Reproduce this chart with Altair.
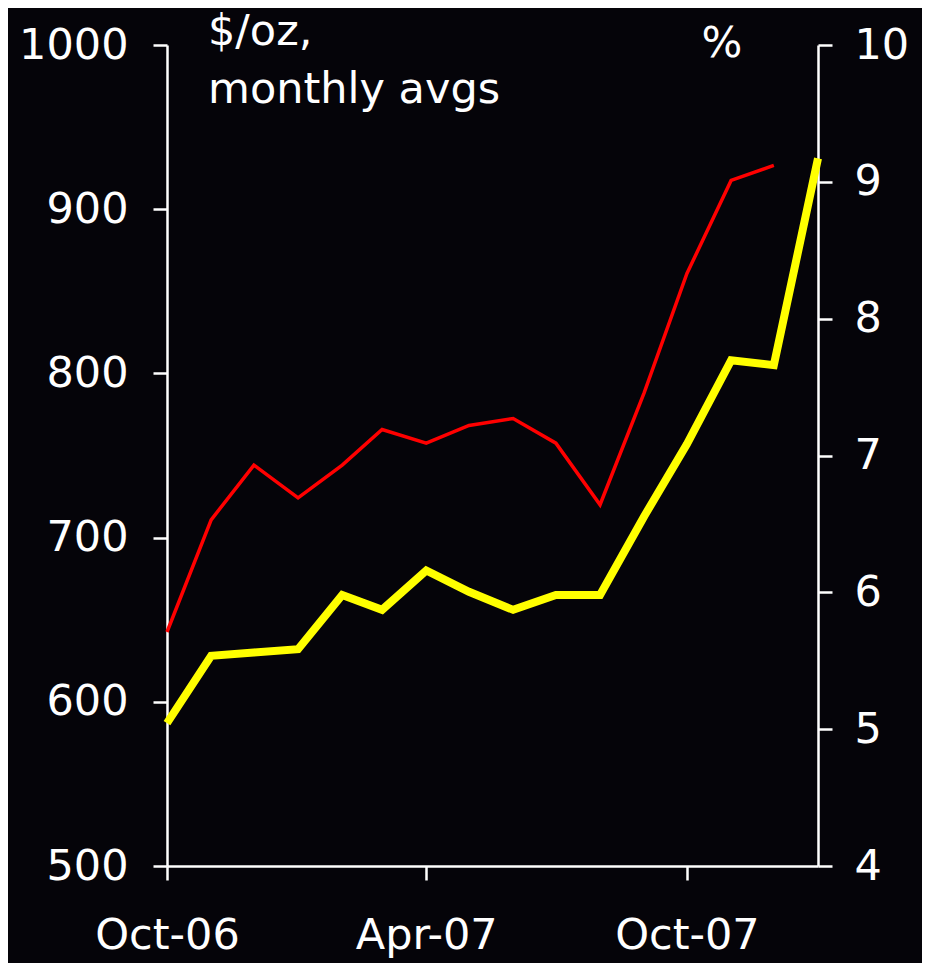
import altair as alt
import pandas as pd

months = ["2006-10-01", "2006-11-01", "2006-12-01", "2007-01-01", "2007-02-01",
          "2007-03-01", "2007-04-01", "2007-05-01", "2007-06-01", "2007-07-01",
          "2007-08-01", "2007-09-01", "2007-10-01", "2007-11-01", "2007-12-01",
          "2008-01-01"]
gold_usd_oz = [587, 628, 630, 632, 665, 656, 680, 667, 656, 665, 665, 713, 757, 808, 805, 931]
rate_pct = [5.71, 6.53, 6.93, 6.69, 6.93, 7.19, 7.09, 7.22, 7.27, 7.09, 6.64, 7.46, 8.33, 9.01, 9.12]

left_ticks = [500, 600, 700, 800, 900, 1000]
right_ticks = [4, 5, 6, 7, 8, 9, 10]
x_tick_dates = ["2006-10-01", "2007-04-01", "2007-10-01"]

gold_df = pd.DataFrame({"month": months, "gold": gold_usd_oz})
rate_df = pd.DataFrame({"month": months[:len(rate_pct)], "rate": rate_pct})

FONT = "DejaVu Sans"
FS = 43
BG = "#050409"

x_enc = alt.X(
    "month:T",
    scale=alt.Scale(type="utc", domain=[months[0], months[-1]]),
    axis=alt.Axis(
        values=[alt.DateTime(year=int(d[:4]), month=int(d[5:7]), date=1, utc=True) for d in x_tick_dates],
        labelExpr="utcFormat(datum.value, '%b-%y')", title=None, labelPadding=34,
        labelFlush=False, labelOverlap=False,
    ),
)

gold_line = alt.Chart(gold_df).mark_line(color="#FFFF00", strokeWidth=8, strokeJoin="miter", clip=False).encode(
    x=x_enc,
    y=alt.Y("gold:Q", scale=alt.Scale(domain=[500, 1000], nice=False, zero=False),
            axis=alt.Axis(orient="left", values=left_ticks, format="d", title=None, labelPadding=25)),
)

rate_line = alt.Chart(rate_df).mark_line(color="#FF0000", strokeWidth=3.5).encode(
    x=x_enc,
    y=alt.Y("rate:Q", scale=alt.Scale(domain=[4, 10], nice=False, zero=False),
            axis=alt.Axis(orient="right", values=right_ticks, format="d", title=None, labelPadding=22)),
)

t1 = alt.Chart(pd.DataFrame({"t": ["$/oz,"]})).mark_text(
    align="left", baseline="alphabetic", font=FONT, fontSize=FS, color="white").encode(
    x=alt.value(41), y=alt.value(0), text="t:N")
t2 = alt.Chart(pd.DataFrame({"t": ["monthly avgs"]})).mark_text(
    align="left", baseline="alphabetic", font=FONT, fontSize=FS, color="white").encode(
    x=alt.value(41), y=alt.value(58), text="t:N")
t3 = alt.Chart(pd.DataFrame({"t": ["%"]})).mark_text(
    align="center", baseline="alphabetic", font=FONT, fontSize=FS, color="white").encode(
    x=alt.value(555), y=alt.value(12), text="t:N")

chart = alt.layer(rate_line, gold_line, t1, t2, t3).resolve_scale(y="independent").properties(
    width=651, height=821,
    background=BG,
    autosize=alt.AutoSizeParams(type="none"),
    padding={"left": 159, "top": 37, "right": 104, "bottom": 97},
    usermeta={"embedOptions": {"defaultStyle": "html, body { background-color: " + BG + " !important; }"}},
).configure_view(stroke=None).configure_axis(
    domainColor="white", domainWidth=2.5, tickColor="white", tickWidth=2.5, tickSize=14,
    grid=False, labelColor="white", labelFont=FONT, labelFontSize=FS,
)

chart.save("out.html", embed_options={"renderer": "svg", "actions": False})
